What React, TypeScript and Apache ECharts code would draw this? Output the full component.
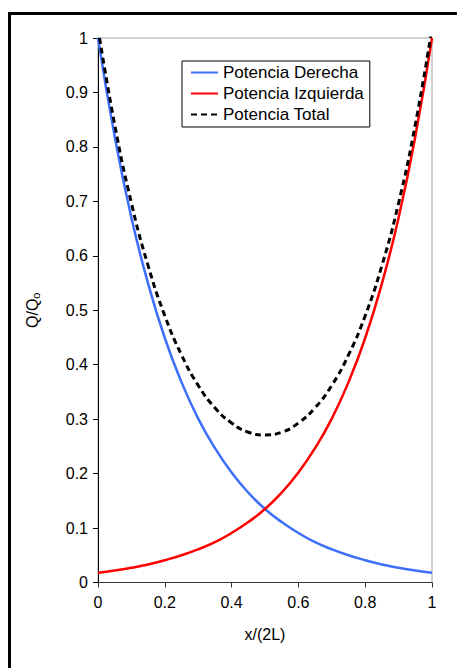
import React, { useEffect, useRef } from "react";
import * as echarts from "echarts";

const xValues = [0, 0.05, 0.1, 0.15, 0.2, 0.25, 0.3, 0.35, 0.4, 0.45, 0.5, 0.55, 0.6, 0.65, 0.7, 0.75, 0.8, 0.85, 0.9, 0.95, 1];
const derecha = [1.0, 0.819, 0.67, 0.549, 0.449, 0.368, 0.301, 0.247, 0.202, 0.165, 0.135, 0.111, 0.091, 0.074, 0.061, 0.05, 0.041, 0.033, 0.027, 0.022, 0.018];
const izquierda = [0.018, 0.022, 0.027, 0.033, 0.041, 0.05, 0.061, 0.074, 0.091, 0.111, 0.135, 0.165, 0.202, 0.247, 0.301, 0.368, 0.449, 0.549, 0.67, 0.819, 1.0];
const total = [1.018, 0.841, 0.697, 0.582, 0.49, 0.418, 0.362, 0.321, 0.293, 0.276, 0.271, 0.276, 0.293, 0.321, 0.362, 0.418, 0.49, 0.582, 0.697, 0.841, 1.018];
const seriesNames = ["Potencia Derecha", "Potencia Izquierda", "Potencia Total"];

const FONT = "Liberation Sans, Arial, sans-serif";

export default function App() {
  const ref = useRef<HTMLDivElement>(null);
  useEffect(() => {
    if (!ref.current) return;
    const chart = echarts.init(ref.current, undefined, { renderer: "svg" });
    const pair = (ys: number[]) => xValues.map((x, i) => [x, ys[i]]);
    chart.setOption({
      animation: false,
      backgroundColor: "#ffffff",
      textStyle: { fontFamily: FONT },
      graphic: [
        {
          type: "rect",
          z: -10,
          shape: { x: 9.5, y: 13.5, width: 520, height: 720 },
          style: { fill: "none", stroke: "#000", lineWidth: 3 },
        },
      ],
      grid: {
        left: 98,
        right: 25,
        top: 38,
        bottom: 85.5,
        show: true,
        borderColor: "#a6a6a6",
        borderWidth: 1,
        backgroundColor: "transparent",
      },
      legend: {
        orient: "vertical",
        left: 182,
        top: 61,
        padding: [3, 6, 4, 8],
        itemGap: 4,
        itemWidth: 27,
        itemHeight: 17,
        borderColor: "#000",
        borderWidth: 1,
        backgroundColor: "#fff",
        itemStyle: { opacity: 0 },
        textStyle: { fontFamily: FONT, fontSize: 17, color: "#000" },
        data: seriesNames,
      },
      xAxis: {
        type: "value",
        min: 0,
        max: 1,
        interval: 0.2,
        name: "x/(2L)",
        nameLocation: "middle",
        nameGap: 44,
        nameTextStyle: { fontFamily: FONT, fontSize: 16, color: "#000" },
        axisLine: { onZero: false, lineStyle: { color: "#333", width: 1 } },
        axisTick: { inside: false, length: 5, lineStyle: { color: "#333" } },
        axisLabel: { fontFamily: FONT, fontSize: 16, color: "#000", margin: 12 },
        splitLine: { show: false },
      },
      yAxis: {
        type: "value",
        min: 0,
        max: 1,
        interval: 0.1,
        name: "{a|Q/Q}{b|o}",
        nameLocation: "middle",
        nameGap: 57,
        nameRotate: 90,
        nameTextStyle: {
          fontFamily: FONT,
          color: "#000",
          rich: {
            a: { fontFamily: FONT, fontSize: 16, color: "#000" },
            b: { fontFamily: FONT, fontSize: 11, color: "#000", padding: [7, 0, 0, 0] },
          },
        },
        axisLine: { onZero: false, lineStyle: { color: "#000", width: 1 } },
        axisTick: { inside: false, length: 5, lineStyle: { color: "#000" } },
        axisLabel: { fontFamily: FONT, fontSize: 16, color: "#000", margin: 10 },
        splitLine: { show: false },
      },
      series: [
        {
          name: seriesNames[0],
          type: "line",
          data: pair(derecha),
          smooth: true,
          showSymbol: false,
          symbol: "none",
          lineStyle: { color: "#3d6ffb", width: 2.5 },
          itemStyle: { color: "#3d6ffb" },
          z: 2,
        },
        {
          name: seriesNames[1],
          type: "line",
          data: pair(izquierda),
          smooth: true,
          showSymbol: false,
          symbol: "none",
          lineStyle: { color: "#ff0000", width: 2.5 },
          itemStyle: { color: "#ff0000" },
          z: 3,
        },
        {
          name: seriesNames[2],
          type: "line",
          data: pair(total),
          smooth: true,
          showSymbol: false,
          symbol: "none",
          lineStyle: { color: "#000", width: 3, type: [6, 4] },
          itemStyle: { color: "#000" },
          z: 4,
        },
      ],
    });
    return () => chart.dispose();
  }, []);
  return (
    <div
      ref={ref}
      style={{ position: "absolute", left: 0, top: 0, width: 457, height: 668 }}
    />
  );
}
